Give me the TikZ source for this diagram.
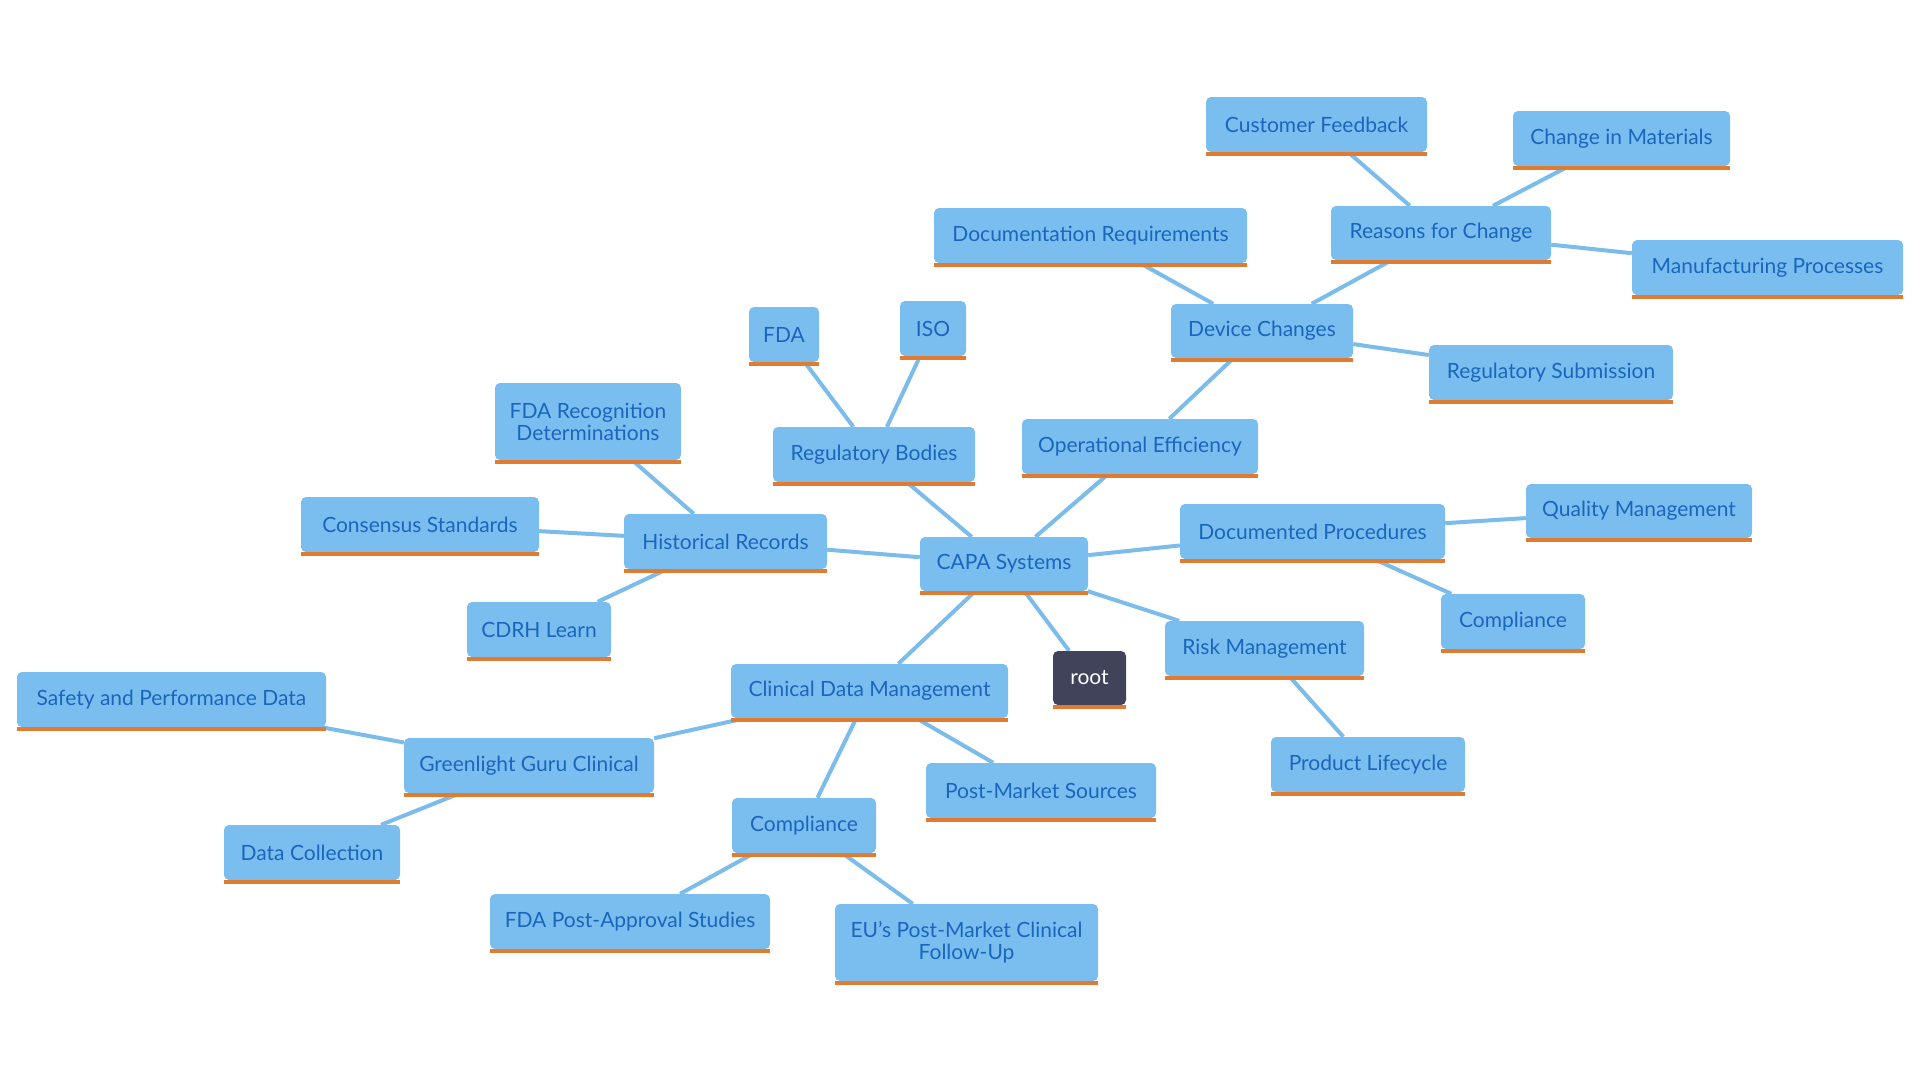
\documentclass[tikz,border=0pt]{standalone}
\usepackage{fontspec}
\setmainfont{Lato}
\usetikzlibrary{backgrounds}
\definecolor{boxfill}{HTML}{7ABEF0}
\definecolor{boxtext}{HTML}{1A66BC}
\definecolor{barcol}{HTML}{E07B30}
\definecolor{edgecol}{HTML}{7BBCEA}
\definecolor{rootfill}{HTML}{40435A}
\tikzset{
  box/.style={fill=boxfill, text=boxtext, rounded corners=5pt, inner sep=0pt, align=center,
    font=\fontsize{21}{22}\selectfont},
  rootbox/.style={box, fill=rootfill, text=white},
  bar/.style={draw=barcol, line width=4pt},
  edge/.style={draw=edgecol, line width=4pt}
}
\newcommand\nd[7][box]{%
  \node[#1, minimum width={(#5-#3)*1pt}, minimum height={(#6-#4-4)*1pt}]
    (#2) at ({(#3+#5)/2},{(#4+#6-4)/2}) {#7};
  \draw[bar] ([yshift=-2pt]#2.south west) -- ([yshift=-2pt]#2.south east);}
\begin{document}
\begin{tikzpicture}[x=1pt,y=-1pt]
\useasboundingbox (0,0) rectangle (1920,1080);
\nd{capa}{920}{537}{1088}{595}{CAPA Systems}
\nd[rootbox]{root}{1053}{651}{1126}{709}{root}
\nd{custfb}{1206}{97}{1427}{156}{Customer Feedback}
\nd{reasons}{1331}{206}{1551}{264}{Reasons for Change}
\nd{materials}{1513}{111}{1730}{170}{Change in Materials}
\nd{manuf}{1632}{240}{1903}{299}{Manufacturing Processes}
\nd{docreq}{934}{208}{1247}{267}{Documentation Requirements}
\nd{devch}{1171}{304}{1353}{362}{Device Changes}
\nd{regsub}{1429}{345}{1673}{404}{Regulatory Submission}
\nd{opeff}{1022}{419}{1258}{478}{Operational Efficiency}
\nd{fda}{749}{307}{819}{366}{FDA}
\nd{iso}{900}{301}{966}{360}{ISO}
\nd{regbod}{773}{427}{975}{486}{Regulatory Bodies}
\nd{fdarec}{495}{383}{681}{464}{FDA Recognition\\Determinations}
\nd{hist}{624}{514}{827}{573}{Historical Records}
\nd{consensus}{301}{497}{539}{556}{Consensus Standards}
\nd{cdrh}{467}{602}{611}{661}{CDRH Learn}
\nd{docproc}{1180}{504}{1445}{563}{Documented Procedures}
\nd{qualmgmt}{1526}{484}{1752}{542}{Quality Management}
\nd{complr}{1441}{594}{1585}{653}{Compliance}
\nd{risk}{1165}{621}{1364}{680}{Risk Management}
\nd{lifecycle}{1271}{737}{1465}{796}{Product Lifecycle}
\nd{cdm}{731}{664}{1008}{722}{Clinical Data Management}
\nd{safety}{17}{672}{326}{731}{Safety and Performance Data}
\nd{green}{404}{738}{654}{797}{Greenlight Guru Clinical}
\nd{datacol}{224}{825}{400}{884}{Data Collection}
\nd{pms}{926}{763}{1156}{822}{Post-Market Sources}
\nd{complb}{732}{798}{876}{857}{Compliance}
\nd{fdapas}{490}{894}{770}{953}{FDA Post-Approval Studies}
\nd{eupmcf}{835}{904}{1098}{985}{EU’s Post-Market Clinical\\Follow-Up}
\begin{scope}[on background layer]
\draw[edge] (capa) -- (root);
\draw[edge] (capa) -- (regbod);
\draw[edge] (capa) -- (opeff);
\draw[edge] (capa) -- (docproc);
\draw[edge] (capa) -- (risk);
\draw[edge] (capa) -- (cdm);
\draw[edge] (capa) -- (hist);
\draw[edge] (regbod) -- (fda);
\draw[edge] (regbod) -- (iso);
\draw[edge] (opeff) -- (devch);
\draw[edge] (devch) -- (docreq);
\draw[edge] (devch) -- (reasons);
\draw[edge] (devch) -- (regsub);
\draw[edge] (reasons) -- (custfb);
\draw[edge] (reasons) -- (materials);
\draw[edge] (reasons) -- (manuf);
\draw[edge] (hist) -- (fdarec);
\draw[edge] (hist) -- (consensus);
\draw[edge] (hist) -- (cdrh);
\draw[edge] (docproc) -- (qualmgmt);
\draw[edge] (docproc) -- (complr);
\draw[edge] (risk) -- (lifecycle);
\draw[edge] (cdm) -- (green);
\draw[edge] (cdm) -- (pms);
\draw[edge] (cdm) -- (complb);
\draw[edge] (green) -- (safety);
\draw[edge] (green) -- (datacol);
\draw[edge] (complb) -- (fdapas);
\draw[edge] (complb) -- (eupmcf);
\end{scope}
\end{tikzpicture}
\end{document}
